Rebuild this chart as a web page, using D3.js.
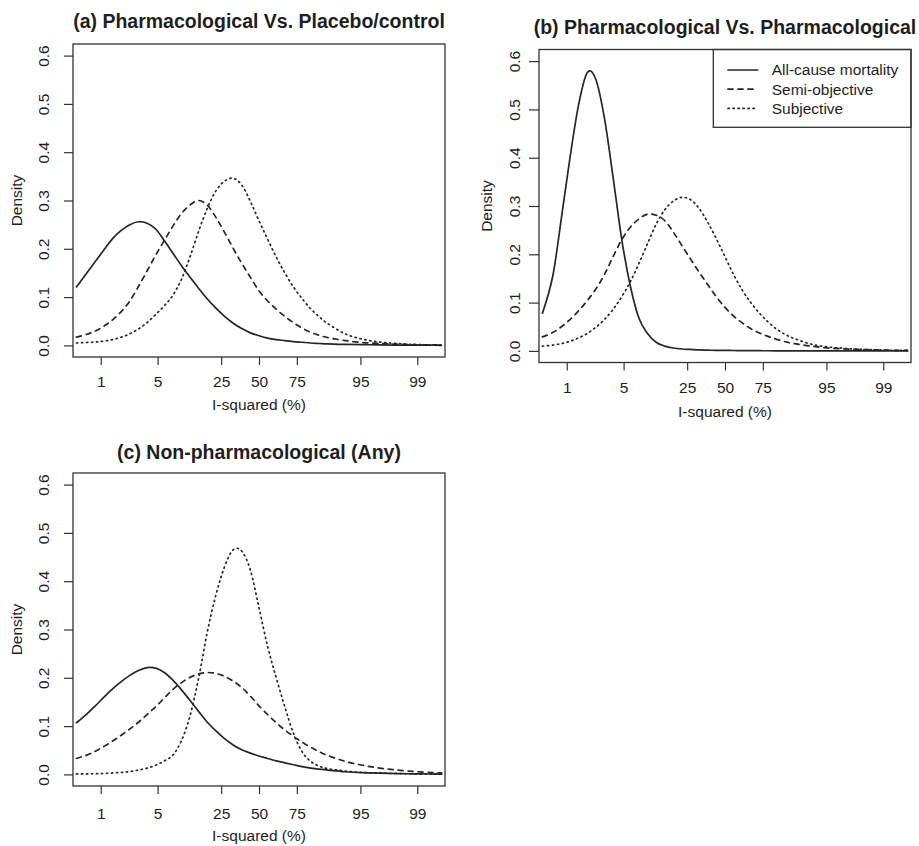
<!DOCTYPE html>
<html>
<head>
<meta charset="utf-8">
<title>I-squared densities</title>
<script src="https://cdn.jsdelivr.net/npm/d3@7"></script>
<style>
  body { margin: 0; background: #fff; }
  text { font-family: "Liberation Sans", Arial, Helvetica, sans-serif; fill: #1e1e1e; }
</style>
</head>
<body>
<div id="container"></div>
<script>
/**
 * CONSTANTS AND GLOBALS
 * */
const width = 919,
  height = 846,
  plotW = 372,
  plotH = 313;

let svg;

/**
 * DATA
 * x values are logit(I-squared); densities
 * */
const gridU = [-5.3, -5, -4.75, -4.5, -4.25, -4, -3.75, -3.5, -3.25, -3, -2.75, -2.5, -2.25,
  -2, -1.75, -1.5, -1.25, -1, -0.75, -0.5, -0.25, 0, 0.25, 0.5, 0.75, 1, 1.25, 1.5, 1.75,
  2, 2.5, 3, 3.5, 4, 4.5, 5, 5.3];

const tickPct = [1, 5, 25, 50, 75, 95, 99];
const densityTicks = [0, 0.1, 0.2, 0.3, 0.4, 0.5, 0.6];
const outcomes = ["All-cause mortality", "Semi-objective", "Subjective"];

// (a) Pharmacological Vs. Placebo/control
const placeboMortality = [0.121, 0.150, 0.174, 0.198, 0.221, 0.238, 0.250, 0.256, 0.253, 0.241, 0.217, 0.191, 0.165,
  0.141, 0.118, 0.096, 0.077, 0.060, 0.046, 0.035, 0.026, 0.020, 0.015, 0.012, 0.010, 0.008, 0.0065, 0.005, 0.004,
  0.003, 0.002, 0.0015, 0.001, 0.0007, 0.0005, 0.0003, 0.0002];
const placeboSemi = [0.017, 0.023, 0.030, 0.040, 0.053, 0.070, 0.092, 0.122, 0.154, 0.187, 0.217, 0.247, 0.273,
  0.291, 0.300, 0.290, 0.265, 0.234, 0.201, 0.170, 0.141, 0.113, 0.092, 0.075, 0.060, 0.047, 0.036, 0.027, 0.021,
  0.016, 0.010, 0.006, 0.004, 0.0025, 0.0015, 0.001, 0.0008];
const placeboSubjective = [0.005, 0.006, 0.007, 0.009, 0.012, 0.017, 0.024, 0.034, 0.047, 0.064, 0.082, 0.104, 0.137,
  0.184, 0.237, 0.284, 0.320, 0.340, 0.346, 0.332, 0.298, 0.258, 0.220, 0.183, 0.150, 0.121, 0.097, 0.076, 0.059,
  0.045, 0.024, 0.013, 0.007, 0.004, 0.002, 0.001, 0.001];

// (b) Pharmacological Vs. Pharmacological
const pharmaMortality = [0.078, 0.155, 0.275, 0.400, 0.510, 0.576, 0.562, 0.482, 0.360, 0.232, 0.135, 0.068, 0.036,
  0.018, 0.010, 0.006, 0.004, 0.003, 0.002, 0.0015, 0.001, 0.001, 0.0008, 0.0006, 0.0005, 0.0004, 0.0003, 0.0002, 0.0002,
  0.0001, 0.0001, 0, 0, 0, 0, 0, 0];
const pharmaSemi = [0.029, 0.038, 0.050, 0.065, 0.083, 0.104, 0.128, 0.158, 0.195, 0.230, 0.256, 0.273, 0.283,
  0.281, 0.270, 0.246, 0.218, 0.190, 0.163, 0.137, 0.112, 0.090, 0.072, 0.058, 0.046, 0.037, 0.030, 0.024, 0.019,
  0.015, 0.010, 0.006, 0.004, 0.003, 0.002, 0.001, 0.001];
const pharmaSubjective = [0.010, 0.012, 0.015, 0.020, 0.027, 0.036, 0.049, 0.065, 0.086, 0.112, 0.143, 0.181, 0.222,
  0.262, 0.292, 0.310, 0.318, 0.313, 0.295, 0.266, 0.232, 0.195, 0.158, 0.126, 0.100, 0.078, 0.060, 0.045, 0.034,
  0.026, 0.014, 0.008, 0.005, 0.003, 0.002, 0.001, 0.001];

// (c) Non-pharmacological (Any)
const nonPharmaMortality = [0.107, 0.125, 0.142, 0.160, 0.177, 0.192, 0.205, 0.215, 0.221, 0.220, 0.211, 0.195, 0.175,
  0.153, 0.130, 0.108, 0.090, 0.074, 0.061, 0.051, 0.044, 0.038, 0.033, 0.028, 0.024, 0.020, 0.016, 0.013, 0.011,
  0.009, 0.0055, 0.0035, 0.0025, 0.0018, 0.0012, 0.0008, 0.0006];
const nonPharmaSemi = [0.033, 0.040, 0.048, 0.058, 0.069, 0.081, 0.094, 0.108, 0.124, 0.140, 0.158, 0.176, 0.190,
  0.201, 0.208, 0.211, 0.209, 0.203, 0.193, 0.180, 0.162, 0.142, 0.124, 0.107, 0.092, 0.079, 0.067, 0.056, 0.047,
  0.039, 0.027, 0.019, 0.013, 0.009, 0.006, 0.004, 0.003];
const nonPharmaSubjective = [0.001, 0.001, 0.0015, 0.002, 0.003, 0.004, 0.006, 0.009, 0.013, 0.019, 0.028, 0.040, 0.070,
  0.122, 0.200, 0.295, 0.372, 0.430, 0.465, 0.462, 0.423, 0.345, 0.265, 0.200, 0.140, 0.085, 0.047, 0.027, 0.017,
  0.012, 0.007, 0.004, 0.003, 0.002, 0.001, 0.001, 0.001];

/**
 * LAYOUT
 * */
const panels = [
  { title: "(a) Pharmacological Vs. Placebo/control",
    series: [placeboMortality, placeboSemi, placeboSubjective],
    left: 73, top: 44, titleY: 27.5, yTick: 9, yLab: 29, xLab: 30, xTitle: 53, densX: 56, legend: false },
  { title: "(b) Pharmacological Vs. Pharmacological",
    series: [pharmaMortality, pharmaSemi, pharmaSubjective],
    left: 539, top: 49.5, titleY: 34, yTick: 10, yLab: 24, xLab: 30.5, xTitle: 54.5, densX: 52, legend: true },
  { title: "(c) Non-pharmacological (Any)",
    series: [nonPharmaMortality, nonPharmaSemi, nonPharmaSubjective],
    left: 73, top: 473, titleY: 459, yTick: 9, yLab: 29, xLab: 33, xTitle: 55, densX: 56, legend: false }
];

const dashes = [null, "5,5", "1.25,3.75"];
const ink = "#262626";

init();

/**
 * INITIALIZING FUNCTION
 * */
function init() {
  svg = d3.select("#container")
    .append("svg")
    .attr("width", width)
    .attr("height", height)
    .style("background-color", "#fff");

  const x = d3.scaleLinear().domain([-5.4, 5.4]).range([0, plotW]);
  const y = d3.scaleLinear().domain([-0.024, 0.624]).range([plotH, 0]);
  const logit = p => Math.log(p / (100 - p));

  const line = d3.line()
    .x((d, i) => x(gridU[i]))
    .y(d => y(d))
    .curve(d3.curveCardinal.tension(0));

  panels.forEach(p => {
    const g = svg.append("g").attr("transform", `translate(${p.left},${p.top})`);

    // density curves
    g.selectAll("path.curve")
      .data(p.series)
      .join("path")
      .attr("class", "curve")
      .attr("d", line)
      .attr("fill", "none")
      .attr("stroke", ink)
      .attr("stroke-width", 1.7)
      .attr("stroke-linecap", "round")
      .attr("stroke-dasharray", (d, i) => dashes[i]);

    // legend (panel b only)
    if (p.legend) {
      const lg = g.append("g").attr("transform", "translate(174.3,0)");
      lg.append("rect")
        .attr("width", plotW - 174.3)
        .attr("height", 77.8)
        .attr("fill", "#fff")
        .attr("stroke", "#333")
        .attr("stroke-width", 1.3);
      const rows = lg.selectAll("g.row")
        .data(outcomes)
        .join("g")
        .attr("class", "row")
        .attr("transform", (d, i) => `translate(0,${20.5 + i * 19.2})`);
      rows.append("line")
        .attr("x1", 14.7).attr("x2", 44.4)
        .attr("stroke", ink)
        .attr("stroke-width", 1.7)
        .attr("stroke-linecap", "round")
        .attr("stroke-dasharray", (d, i) => dashes[i]);
      rows.append("text")
        .attr("x", 58.4)
        .attr("dy", "0.35em")
        .style("font-size", "15.5px")
        .text(d => d);
    }

    // box
    g.append("rect")
      .attr("width", plotW)
      .attr("height", plotH)
      .attr("fill", "none")
      .attr("stroke", "#333")
      .attr("stroke-width", 1.3);

    // x axis
    const xAxis = g.append("g")
      .attr("transform", `translate(0,${plotH})`)
      .attr("color", "#333")
      .call(d3.axisBottom(x)
        .tickValues(tickPct.map(logit))
        .tickFormat((d, i) => tickPct[i])
        .tickSize(8));
    xAxis.select(".domain").remove();
    xAxis.selectAll(".tick line").attr("stroke-width", 1.2);
    xAxis.selectAll("text")
      .attr("y", p.xLab)
      .attr("dy", null)
      .style("font-size", "15.5px");

    // y axis
    const yAxis = g.append("g")
      .attr("color", "#333")
      .call(d3.axisLeft(y)
        .tickValues(densityTicks)
        .tickFormat(d3.format(".1f"))
        .tickSize(p.yTick));
    yAxis.select(".domain").remove();
    yAxis.selectAll(".tick line").attr("stroke-width", 1.2);
    yAxis.selectAll("text")
      .attr("transform", "rotate(-90)")
      .attr("x", 0)
      .attr("y", -p.yLab)
      .attr("dy", "0.35em")
      .attr("text-anchor", "middle")
      .style("font-size", "15.5px");

    // axis titles
    g.append("text")
      .attr("x", plotW / 2)
      .attr("y", plotH + p.xTitle)
      .attr("text-anchor", "middle")
      .style("font-size", "15.5px")
      .text("I-squared (%)");
    g.append("text")
      .attr("transform", `translate(${-p.densX},${plotH / 2}) rotate(-90)`)
      .attr("dy", "0.35em")
      .attr("text-anchor", "middle")
      .style("font-size", "15.5px")
      .text("Density");

    // panel title
    svg.append("text")
      .attr("x", p.left + plotW / 2)
      .attr("y", p.titleY)
      .attr("text-anchor", "middle")
      .style("font-size", "19.5px")
      .style("font-weight", "bold")
      .text(p.title);
  });
}
</script>
</body>
</html>
